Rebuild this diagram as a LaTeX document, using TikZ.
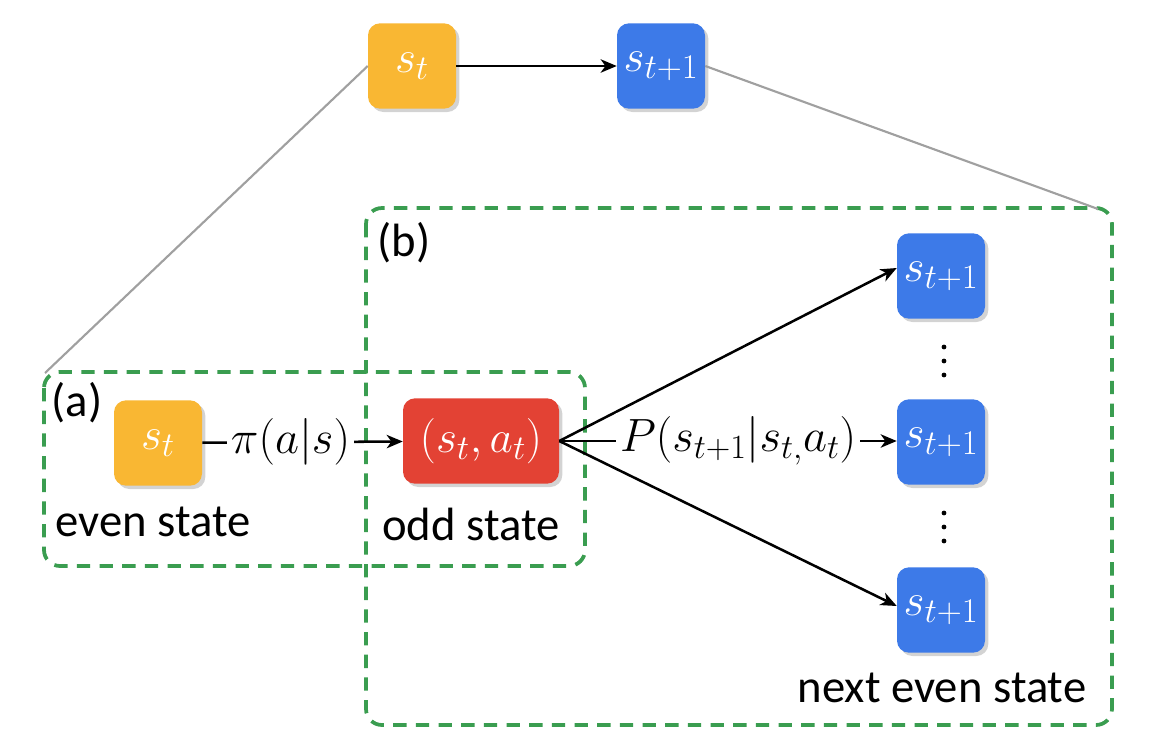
\documentclass[tikz,border=0pt]{standalone}
\usepackage{fix-cm}
\usepackage{fontspec}
\setmainfont{Carlito}
\DeclareMathSizes{35}{35}{25.5}{20}
\DeclareMathSizes{34}{34}{26}{20}
\usetikzlibrary{arrows.meta,shadows}
\definecolor{corange}{HTML}{F9B733}
\definecolor{cblue}{HTML}{3D7AE8}
\definecolor{cred}{HTML}{E34234}
\definecolor{cgreen}{HTML}{3A9D50}
\definecolor{cgray}{HTML}{A0A0A0}
\tikzset{
  box/.style={rounded corners=9pt, minimum width=66pt, minimum height=64pt, text=white, inner sep=0pt,
    font=\fontsize{34}{40}\selectfont,
    drop shadow={opacity=0.35, shadow xshift=2.5pt, shadow yshift=-2.5pt}},
  group/.style={draw=cgreen, line width=2.8pt, dash pattern=on 10pt off 7pt, rounded corners=12pt},
  arr/.style={line width=1.9pt, -{Stealth[length=12pt,width=10pt,inset=3.5pt]}},
  zoomline/.style={draw=cgray, line width=1.6pt},
  lbl/.style={fill=white, inner sep=3pt},
  dot/.style={circle, fill=black, inner sep=0pt, minimum size=3.6pt}
}
\begin{document}
\begin{tikzpicture}[x=0.75pt,y=-0.75pt, font=\fontsize{35}{42}\selectfont]
\useasboundingbox (0,0) rectangle (1150,754);
% group boxes
\draw[group] (44,372) rectangle (585,566);
\draw[group] (366,208) rectangle (1112,725);
\coordinate (acorner) at (45,373);
\coordinate (bcorner) at (1098,209);
% top nodes
\node[box, fill=corange] (ts) at (412,66) {$s_t$};
\node[box, fill=cblue] (tn) at (661,66) {$s_{t+1}$};
\draw[arr] (ts) -- (tn);
\draw[zoomline] (ts.west) -- (acorner);
\draw[zoomline] (tn.east) -- (bcorner);
% lower
\node[box, fill=corange] (s) at (158,443) {$s_t$};
\node[box, fill=cred, minimum width=117pt] (sa) at (481,441) {$(s_t,a_t)$};
\node[box, fill=cblue] (n1) at (941,276) {$s_{t+1}$};
\node[box, fill=cblue] (n2) at (941,442) {$s_{t+1}$};
\node[box, fill=cblue] (n3) at (941,610) {$s_{t+1}$};
% vertical ellipses
\node[dot] (d1a) at (944,347) {};
\node[dot] (d1b) at (944,361) {};
\node[dot] (d1c) at (944,375) {};
\node[dot] (d2a) at (944,513) {};
\node[dot] (d2b) at (944,527) {};
\node[dot] (d2c) at (944,541) {};
\draw[arr] (s) -- node[lbl, pos=0.44] {$\pi(a|s)$} (sa);
\draw[arr] (sa.east) -- (n1.west |- 0,268);
\draw[arr] (sa.east) -- node[lbl, pos=0.53] {$P(s_{t+1}|s_{t,}a_t)$} (sa.east -| n2.west);
\draw[arr] (sa.east) -- (n3.west |- 0,606);
% texts
\node (la) at (77,403) {(a)};
\node (lb) at (404,243) {(b)};
\node (even) at (153,522) {even state};
\node (odd) at (471,524) {odd state};
\node (next) at (942,688) {next even state};
\end{tikzpicture}
\end{document}
